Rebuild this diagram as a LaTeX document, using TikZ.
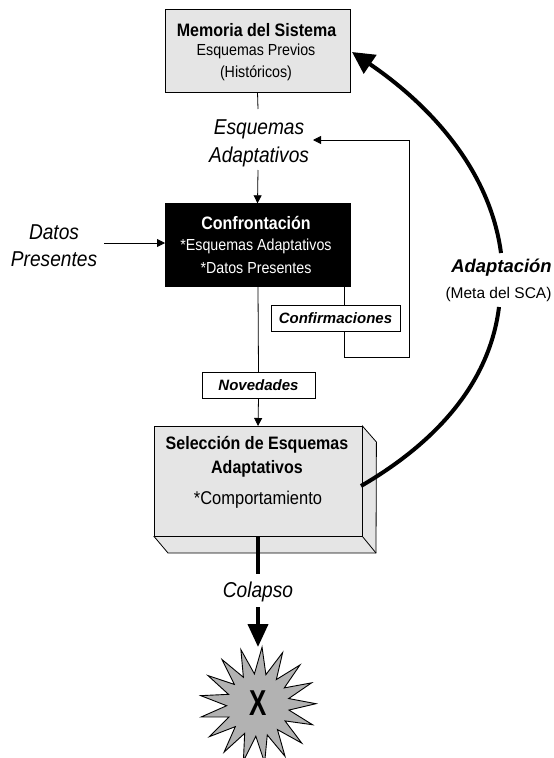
\documentclass[tikz,border=0pt]{standalone}
\usepackage{fontspec}
\setmainfont{Liberation Sans}
\newfontfamily\narrowfont[FakeStretch=0.89]{Liberation Sans}
\newfontfamily\tallfont[FakeStretch=0.72]{Liberation Sans}
\usetikzlibrary{arrows.meta,positioning,shapes.geometric}

\begin{document}
\begin{tikzpicture}[x=1pt,y=-1pt,
  box/.style={draw, inner sep=0pt, minimum width=185pt, minimum height=83pt},
  title/.style={inner sep=0pt, font=\narrowfont\fontsize{18}{20}\selectfont\bfseries},
  line/.style={inner sep=0pt, font=\narrowfont\fontsize{16}{18}\selectfont},
  tag/.style={draw, fill=white, inner sep=0pt, minimum height=26pt, font=\fontsize{15}{17}\selectfont\bfseries\itshape},
  flow/.style={line width=0.8pt},
  arr/.style={flow,-{Triangle[length=8pt,width=8pt]}},
  big/.style={line width=4pt},
  label/.style={align=center, font=\narrowfont\fontsize{21.5}{27.5}\selectfont\itshape}
]
\useasboundingbox (0,0) rectangle (554,758);

% star
\node[star, star points=17, star point ratio=1.85, minimum size=116pt, inner sep=0pt, draw, fill=black!30, line width=0.9pt, shape border rotate=-4] (colapse) at (258,705) {};
\node[font=\tallfont\fontsize{36}{36}\selectfont\bfseries] (colapse_x) at (258,703) {X};

% boxes
\node[box, fill=black!10] (memoria) at (257.5,50.5) {};
\node[title] (memoria_t) at (256.5,30) {Memoria del Sistema};
\node[line] (memoria_a) at (256,51) {Esquemas Previos};
\node[line] (memoria_b) at (256,73) {(Históricos)};

\node[box, fill=black] (confronta) at (257.5,245) {};
\node[title, text=white] (confronta_t) at (256,223) {Confrontación};
\node[line, text=white] (confronta_a) at (256,246) {*Esquemas Adaptativos};
\node[line, text=white] (confronta_b) at (256,268) {*Datos Presentes};

% selection block
\node[box, fill=black!10, minimum width=208pt, minimum height=110pt, anchor=north west] (seleccion) at (154,426) {};
\draw[fill=black!10, line width=0.8pt] (seleccion.north east) -- ++(14,16) -- (376,553) -- (168,553) -- (seleccion.south west) -- (seleccion.south east) -- cycle;
\draw[line width=0.8pt] (seleccion.south east) -- (376,553);
\node[title] (seleccion_t) at (257,445) {Selección de Esquemas};
\node[title] (seleccion_a) at (257,469) {Adaptativos};
\node[inner sep=0pt, font=\narrowfont\fontsize{18.5}{20}\selectfont] (seleccion_c) at (258,500) {*Comportamiento};

% labels
\node[label] (esquemas) at (259,143.5) {Esquemas\\Adaptativos};
\node[label] (datos) at (54,245.5) {Datos\\Presentes};
\node[label] (colapso) at (258,592) {Colapso};
\node[tag, minimum width=129pt] (confirma) at (335.5,318) {Confirmaciones};
\node[tag, minimum width=113pt] (novedades) at (258.5,385) {Novedades};
\node[font=\fontsize{18.4}{20}\selectfont\bfseries\itshape] (adapta) at (501.5,268) {Adaptación};
\node[font=\fontsize{15.5}{18}\selectfont, below=4pt of adapta, xshift=-3pt] (meta) {(Meta del SCA)};

\coordinate (back_a) at (344,357);
\coordinate (back_b) at (409,357);
\coordinate (back_c) at (409,140);
\coordinate (back_d) at (313,140);

% flow
\draw[flow] (memoria.south) -- (258,109);
\draw[arr] (258,170) -- (confronta.north);
\draw[arr] (104,243) -- (165,243);
\draw[flow] (344,287) -- (344,305);
\draw[arr] (344,331) -- (back_a) -- (back_b) -- (back_c) -- (back_d);
\draw[flow] (258,287) -- (novedades.north);
\draw[arr] (novedades.south) -- (258,426);

% collapse
\draw[big] (258,536) -- (258,574);
\draw[big,-{Triangle[length=23pt,width=20pt]}] (258,607) -- (258,647);

% adaptation
\draw[big] (361,486) .. controls (440,440) and (490,380) .. (499,307);
\draw[big,-{Triangle[length=22pt,width=22pt]}] (501,253) .. controls (490,170) and (430,105) .. (352,52);

\end{tikzpicture}
\end{document}
